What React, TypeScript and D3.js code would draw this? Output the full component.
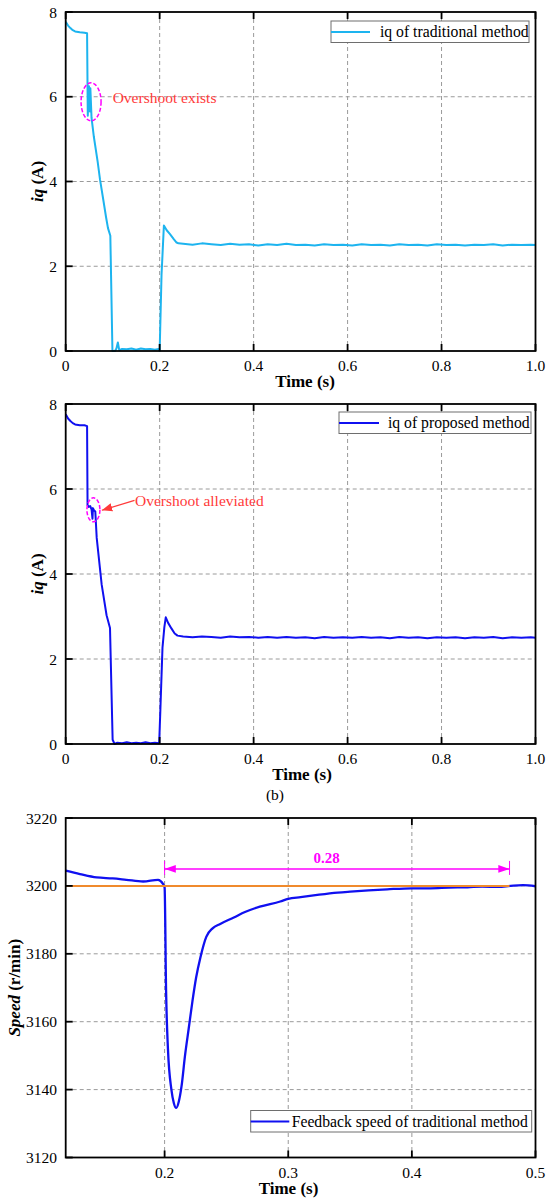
import React from 'react'
import * as d3 from 'd3'

// iq of traditional method (panel a)
const tradTime = [
  0, 0.005, 0.01, 0.015, 0.02, 0.03, 0.04, 0.0455, 0.047, 0.0495, 0.0515, 0.0525, 0.055, 0.06, 0.068, 0.073,
  0.08, 0.086, 0.09, 0.095, 0.0995, 0.105, 0.108, 0.111, 0.114, 0.12, 0.13, 0.14, 0.15, 0.16, 0.17, 0.18,
  0.19, 0.198, 0.2, 0.204, 0.209, 0.215, 0.222, 0.23, 0.236, 0.24, 0.25, 0.27, 0.29, 0.31, 0.33, 0.35,
  0.37, 0.39, 0.41, 0.43, 0.45, 0.47, 0.49, 0.51, 0.53, 0.55, 0.57, 0.59, 0.61, 0.63, 0.65, 0.67, 0.69,
  0.71, 0.73, 0.75, 0.77, 0.79, 0.81, 0.83, 0.85, 0.87, 0.89, 0.91, 0.93, 0.95, 0.97, 0.99, 1.0,
]
const tradIq = [
  7.77, 7.68, 7.62, 7.57, 7.54, 7.52, 7.51, 7.5, 5.55, 6.25, 5.65, 6.2, 5.5, 5.05, 4.47, 4.05,
  3.57, 3.15, 2.9, 2.72, 0.0, 0.0, 0.06, 0.2, 0.02, 0.05, 0.04, 0.06, 0.03, 0.06, 0.04, 0.05,
  0.03, 0.05, 0.0, 1.8, 2.96, 2.85, 2.76, 2.64, 2.56, 2.54, 2.53, 2.51, 2.54, 2.52, 2.5, 2.53,
  2.51, 2.52, 2.49, 2.52, 2.5, 2.53, 2.5, 2.51, 2.49, 2.52, 2.5, 2.51, 2.49, 2.52, 2.5, 2.51, 2.49,
  2.52, 2.5, 2.51, 2.49, 2.52, 2.5, 2.51, 2.49, 2.51, 2.5, 2.52, 2.49, 2.51, 2.5, 2.51, 2.5,
]

// iq of proposed method (panel b)
const propTime = [
  0, 0.005, 0.01, 0.015, 0.02, 0.03, 0.04, 0.0455, 0.0465, 0.049, 0.052, 0.055, 0.057, 0.058, 0.06, 0.063,
  0.066, 0.0766, 0.087, 0.0943, 0.0999, 0.104, 0.11, 0.12, 0.13, 0.14, 0.15, 0.16, 0.17, 0.18, 0.19,
  0.199, 0.2015, 0.206, 0.21, 0.213, 0.218, 0.225, 0.232, 0.238, 0.25, 0.27, 0.29, 0.31, 0.33, 0.35,
  0.37, 0.39, 0.41, 0.43, 0.45, 0.47, 0.49, 0.51, 0.53, 0.55, 0.57, 0.59, 0.61, 0.63, 0.65, 0.67, 0.69,
  0.71, 0.73, 0.75, 0.77, 0.79, 0.81, 0.83, 0.85, 0.87, 0.89, 0.91, 0.93, 0.95, 0.97, 0.99, 1.0,
]
const propIq = [
  7.76, 7.66, 7.6, 7.55, 7.52, 7.5, 7.5, 7.48, 5.62, 5.58, 5.6, 5.52, 5.3, 5.55, 5.5, 5.47,
  4.85, 3.75, 3.03, 2.73, 0.1, 0.0, 0.03, 0.02, 0.04, 0.02, 0.03, 0.02, 0.04, 0.02, 0.03,
  0.02, 0.8, 2.26, 2.75, 2.98, 2.85, 2.72, 2.6, 2.55, 2.53, 2.51, 2.53, 2.52, 2.5, 2.53,
  2.51, 2.52, 2.5, 2.52, 2.5, 2.52, 2.5, 2.51, 2.49, 2.52, 2.5, 2.51, 2.5, 2.52, 2.5, 2.51, 2.49,
  2.52, 2.5, 2.51, 2.49, 2.51, 2.5, 2.51, 2.49, 2.51, 2.5, 2.52, 2.49, 2.51, 2.5, 2.51, 2.5,
]

// feedback speed of traditional method (panel c)
const speedTime = [
  0.12, 0.1315, 0.145, 0.158, 0.169, 0.1826, 0.1947, 0.1987, 0.2, 0.2012, 0.2027, 0.2055, 0.2075, 0.2094,
  0.2115, 0.2137, 0.2165, 0.2195, 0.2225, 0.2255, 0.229, 0.2337, 0.2388, 0.245, 0.256, 0.265, 0.277, 0.2935,
  0.3, 0.31, 0.325, 0.34, 0.35, 0.365, 0.38, 0.4, 0.415, 0.43, 0.445, 0.457, 0.47, 0.48, 0.49, 0.5,
]
const speedValues = [
  3204.5, 3203.5, 3202.5, 3202.2, 3201.8, 3201.3, 3201.8, 3200.6, 3199.5, 3169, 3152, 3140, 3136, 3134.6,
  3136.5, 3141, 3150, 3158, 3166, 3173, 3179, 3185, 3187.5, 3188.8, 3190.7, 3192.3, 3193.9, 3195.4,
  3196.2, 3196.7, 3197.4, 3198, 3198.3, 3198.7, 3199, 3199.3, 3199.3, 3199.5, 3199.6, 3199.8, 3199.7, 3200, 3200.2, 3199.9,
]
const speedRef = 3200
const speedRefEnd = 0.479
const settleStart = 0.2
const settleEnd = 0.479
const settleLabel = '0.28'

const iqXTicks = [0, 0.2, 0.4, 0.6, 0.8, 1.0]
const iqYTicks = [0, 2, 4, 6, 8]
const speedXTicks = [0.2, 0.3, 0.4, 0.5]
const speedYTicks = [3120, 3140, 3160, 3180, 3200, 3220]

const FONT = "'Liberation Serif', 'Times New Roman', serif"
const TRAD = '#1db4ef'
const BLUE = '#1010f0'
const ORANGE = '#f08a2c'
const MAGENTA = '#ff00ff'
const RED = '#ff3a3a'

type Scale = d3.ScaleLinear<number, number>

interface FrameProps {
  x: Scale
  y: Scale
  xTicks: number[]
  yTicks: number[]
  xFormat: (d: number) => string
  xTitleX: number
  yTitleX: number
  yTitle: React.ReactNode
  children?: React.ReactNode
}

const Frame: React.FC<FrameProps> = ({ x, y, xTicks, yTicks, xFormat, xTitleX, yTitleX, yTitle, children }) => {
  const [x0, x1] = x.range()
  const [y0, y1] = y.range()
  const inner = (v: number, a: number, b: number) => v > Math.min(a, b) + 1 && v < Math.max(a, b) - 1
  return (
    <g fontFamily={FONT}>
      {xTicks.filter((t) => inner(x(t), x0, x1)).map((t) => (
        <line key={'gx' + t} x1={x(t)} x2={x(t)} y1={y1} y2={y0} stroke="#9a9a9a" strokeDasharray="4,3" />
      ))}
      {yTicks.filter((t) => inner(y(t), y0, y1)).map((t) => (
        <line key={'gy' + t} x1={x0} x2={x1} y1={y(t)} y2={y(t)} stroke="#9a9a9a" strokeDasharray="4,3" />
      ))}
      {children}
      {xTicks.map((t) => (
        <g key={'tx' + t}>
          <line x1={x(t)} x2={x(t)} y1={y0} y2={y0 - 7} stroke="#000" strokeWidth={1.8} />
          <line x1={x(t)} x2={x(t)} y1={y1} y2={y1 + 7} stroke="#000" strokeWidth={1.8} />
          <text x={x(t)} y={y0 + 20} textAnchor="middle" fontSize={15.5}>{xFormat(t)}</text>
        </g>
      ))}
      {yTicks.map((t) => (
        <g key={'ty' + t}>
          <line x1={x0} x2={x0 + 7} y1={y(t)} y2={y(t)} stroke="#000" strokeWidth={1.8} />
          <text x={57} y={y(t) + 5.5} textAnchor="end" fontSize={15.5}>{t}</text>
        </g>
      ))}
      <rect x={x0} y={y1} width={x1 - x0} height={y0 - y1} fill="none" stroke="#000" strokeWidth={1.8} />
      <text x={xTitleX} y={y0 + 36} textAnchor="middle" fontSize={17} fontWeight="bold">Time (s)</text>
      <text transform={`translate(${yTitleX},${(y0 + y1) / 2}) rotate(-90)`} textAnchor="middle" fontSize={17} fontWeight="bold">
        {yTitle}
      </text>
    </g>
  )
}

interface LegendProps {
  left: number
  top: number
  width: number
  lineLen: number
  textX: number
  color: string
  label: string
}

const Legend: React.FC<LegendProps> = ({ left, top, width, lineLen, textX, color, label }) => (
  <g fontFamily={FONT}>
    <rect x={left} y={top} width={width} height={21.5} fill="#fff" stroke="#6e6e6e" strokeWidth={1} />
    <line x1={left} x2={left + lineLen} y1={top + 11} y2={top + 11} stroke={color} strokeWidth={2} />
    <text x={textX} y={top + 16} fontSize={15.7}>{label}</text>
  </g>
)

const App: React.FC = () => {
  const xIq = d3.scaleLinear().domain([0, 1]).range([65.7, 535.5])
  const yTop = d3.scaleLinear().domain([0, 8]).range([351, 12])
  const yMid = d3.scaleLinear().domain([0, 8]).range([744, 404])
  const xSp = d3.scaleLinear().domain([0.12, 0.5]).range([65.7, 535.5])
  const ySp = d3.scaleLinear().domain([3120, 3220]).range([1157.5, 818])

  const iqFmt = (d: number) => (d === 0 ? '0' : d.toFixed(1))
  const spFmt = (d: number) => d.toFixed(1)

  const lineTop = d3.line<number>().x((_, i) => xIq(tradTime[i])).y((d) => yTop(d))
  const lineMid = d3.line<number>().x((_, i) => xIq(propTime[i])).y((d) => yMid(d))
  const lineSp = d3.line<number>().x((_, i) => xSp(speedTime[i])).y((d) => ySp(d)).curve(d3.curveMonotoneX)

  const arrowY = ySp(3205)

  return (
    <svg width={550} height={1202} style={{ position: 'absolute', left: 0, top: 0, background: '#fff' }}>
      <defs>
        <marker id="redArrow" viewBox="0 0 10 10" refX={10} refY={5} markerWidth={8} markerHeight={8} orient="auto">
          <path d="M0,1 L10,5 L0,9 Z" fill={RED} />
        </marker>
        <marker id="magArrow" viewBox="0 0 10 10" refX={10} refY={5} markerWidth={7} markerHeight={7} orient="auto-start-reverse">
          <path d="M0,1.5 L10,5 L0,8.5 Z" fill={MAGENTA} />
        </marker>
      </defs>

      {/* panel (a) */}
      <Frame x={xIq} y={yTop} xTicks={iqXTicks} yTicks={iqYTicks} xFormat={iqFmt} xTitleX={305} yTitleX={43}
        yTitle={<><tspan fontStyle="italic">iq</tspan> (A)</>}>
        <path d={lineTop(tradIq) || ''} fill="none" stroke={TRAD} strokeWidth={2} strokeLinejoin="round" />
        <ellipse cx={xIq(0.054)} cy={yTop(5.88)} rx={10} ry={19} fill="none" stroke={MAGENTA} strokeWidth={1.5} strokeDasharray="4,2" />
        <text x={xIq(0.1)} y={yTop(5.85)} fontFamily={FONT} fontSize={15.5} fill={RED}>Overshoot exists</text>
        <Legend left={331} top={21} width={198} lineLen={39} textX={380} color={TRAD} label="iq of traditional method" />
      </Frame>

      {/* panel (b) */}
      <Frame x={xIq} y={yMid} xTicks={iqXTicks} yTicks={iqYTicks} xFormat={iqFmt} xTitleX={302} yTitleX={43}
        yTitle={<><tspan fontStyle="italic">iq</tspan> (A)</>}>
        <path d={lineMid(propIq) || ''} fill="none" stroke={BLUE} strokeWidth={2} strokeLinejoin="round" />
        <ellipse cx={xIq(0.059)} cy={yMid(5.51)} rx={6.5} ry={12} fill="none" stroke={MAGENTA} strokeWidth={1.5} strokeDasharray="4,2" />
        <line x1={xIq(0.1465)} y1={yMid(5.73)} x2={xIq(0.077)} y2={yMid(5.5)} stroke={RED} strokeWidth={1.3} markerEnd="url(#redArrow)" />
        <text x={xIq(0.1475)} y={yMid(5.59)} fontFamily={FONT} fontSize={15.5} fill={RED}>Overshoot alleviated</text>
        <Legend left={339} top={412} width={192} lineLen={40} textX={388} color={BLUE} label="iq of proposed method" />
      </Frame>

      <text x={275} y={800} textAnchor="middle" fontFamily={FONT} fontSize={15.5}>(b)</text>

      {/* panel (c) */}
      <Frame x={xSp} y={ySp} xTicks={speedXTicks} yTicks={speedYTicks} xFormat={spFmt} xTitleX={288.5} yTitleX={20}
        yTitle={<><tspan fontStyle="italic">Speed</tspan> (r/min)</>}>
        <path d={lineSp(speedValues) || ''} fill="none" stroke={BLUE} strokeWidth={2.3} strokeLinejoin="round" />
        <line x1={xSp(0.12)} x2={xSp(speedRefEnd)} y1={ySp(speedRef)} y2={ySp(speedRef)} stroke={ORANGE} strokeWidth={2} />
        <line x1={xSp(settleStart)} x2={xSp(settleStart)} y1={arrowY - 8} y2={arrowY + 6} stroke={MAGENTA} strokeWidth={1} />
        <line x1={xSp(settleEnd)} x2={xSp(settleEnd)} y1={arrowY - 8} y2={arrowY + 6} stroke={MAGENTA} strokeWidth={1} />
        <line x1={xSp(settleStart)} x2={xSp(settleEnd)} y1={arrowY} y2={arrowY} stroke={MAGENTA} strokeWidth={1.6}
          markerStart="url(#magArrow)" markerEnd="url(#magArrow)" />
        <text x={xSp(0.331)} y={ySp(3206.8)} textAnchor="middle" fontFamily={FONT} fontSize={15} fontWeight="bold" fill={MAGENTA}>
          {settleLabel}
        </text>
        <Legend left={250.7} top={1110.5} width={281} lineLen={38.6} textX={291.7} color={BLUE} label="Feedback speed of traditional method" />
      </Frame>
    </svg>
  )
}

export default App
